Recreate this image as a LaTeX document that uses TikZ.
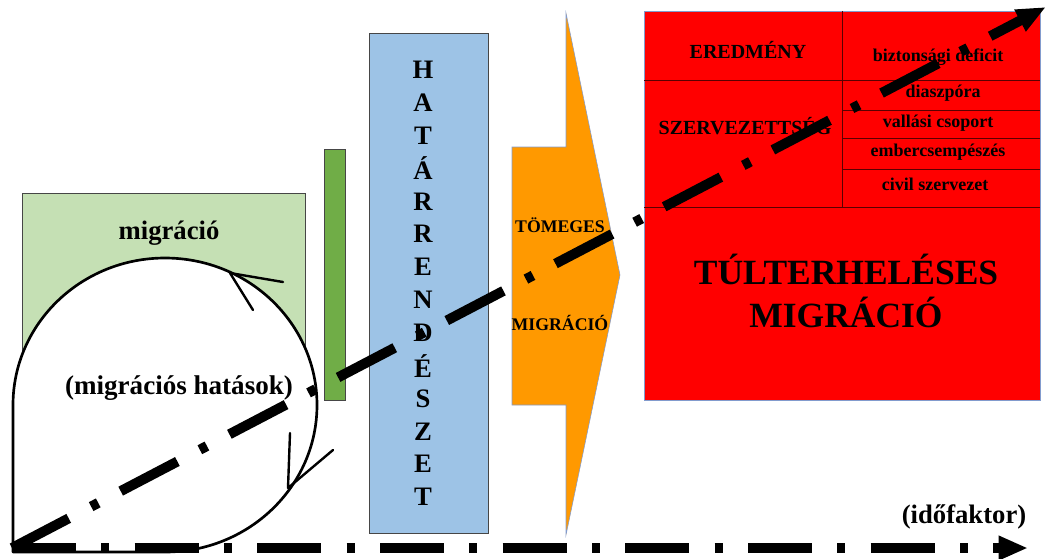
\documentclass[tikz,border=0pt]{standalone}
\usepackage{fontspec}
\setmainfont{Liberation Serif}
\usetikzlibrary{arrows.meta}

\definecolor{migGreen}{RGB}{197,224,180}
\definecolor{barGreen}{RGB}{112,173,71}
\definecolor{borderBlue}{RGB}{157,195,230}
\definecolor{massOrange}{RGB}{255,153,0}
\definecolor{boxEdge}{RGB}{70,70,70}
\definecolor{paleEdge}{RGB}{130,155,205}
\definecolor{cellLine}{RGB}{90,0,0}

\begin{document}
\begin{tikzpicture}[x=0.75pt,y=-0.75pt,
  lbl/.style={font=\bfseries\fontsize{#1pt}{#1pt}\selectfont,inner sep=0pt},
  lbl/.default=13.5,
  timeline/.style={line width=7.5pt,dash pattern=on 48pt off 19pt on 6pt off 19pt,
    -{Triangle[length=22pt,width=17pt]}},
  effect/.style={line width=2pt,line cap=round,line join=round}]
  \useasboundingbox (0,0) rectangle (1048,558);
  \draw[boxEdge,fill=migGreen] (22,193) rectangle (305,420);
  \draw[effect,fill=white] (13,552) -- (13,405) arc[start angle=180,end angle=450,x radius=152,y radius=147] -- cycle;
  \draw[effect,line width=1.8pt] (283,282) -- (230,273) -- (253,310);
  \draw[effect,line width=1.8pt] (290,433) -- (288,488) -- (333,450);
  \node[lbl=20] (mig) at (169,233) {migráció};
  \node[lbl=20.3] (hatas) at (179,388) {(migrációs hatások)};
  \draw[boxEdge,fill=barGreen] (324,149) rectangle (345,400);
  \draw[boxEdge,fill=borderBlue] (369,33) rectangle (488,533);
  \foreach \ch [count=\i from 0] in {H,A,T,Á,R,R,E,N,D,É,S,Z,E,T}
    \node[lbl=20] (hat\i) at (423,70+32.85*\i) {\ch};
  \draw[paleEdge,fill=massOrange] (512,147) -- (566,147) -- (566,13) -- (620,275)
    -- (566,535) -- (566,405) -- (512,405) -- cycle;
  \node[lbl=13.3] (tom) at (560,225) {TÖMEGES};
  \node[lbl=13.3] (tmig) at (560,323) {MIGRÁCIÓ};
  \draw[paleEdge,fill=red] (644,11) rectangle (1040,400);
  \draw[cellLine] (644,80) -- (1040,80) (644,207) -- (1040,207) (842,11) -- (842,207)
    (842,110) -- (1040,110) (842,138) -- (1040,138) (842,169) -- (1040,169);
  \node[lbl=15] (ered) at (748,50) {EREDMÉNY};
  \node[lbl=15] (szerv) at (745,126) {SZERVEZETTSÉG};
  \node[lbl] (bizt) at (938,57) {biztonsági deficit};
  \node[lbl] (diasz) at (943,93) {diaszpóra};
  \node[lbl] (vall) at (938,123) {vallási csoport};
  \node[lbl] (ember) at (938,152) {embercsempészés};
  \node[lbl] (civil) at (935,184) {civil szervezet};
  \node[font=\bfseries\fontsize{26.6pt}{32pt}\selectfont,align=center,inner sep=0pt] (tulter) at (846,291)
    {TÚLTERHELÉSES\\MIGRÁCIÓ};
  \node[lbl=20] (ido) at (964,517) {(időfaktor)};
  \coordinate (origo) at (12,548);
  \coordinate (idoveg) at (1028,548);
  \coordinate (hatasveg) at (1046,7);
  \draw[timeline] (origo) -- (idoveg);
  \draw[timeline] (origo) -- (hatasveg);
\end{tikzpicture}
\end{document}
